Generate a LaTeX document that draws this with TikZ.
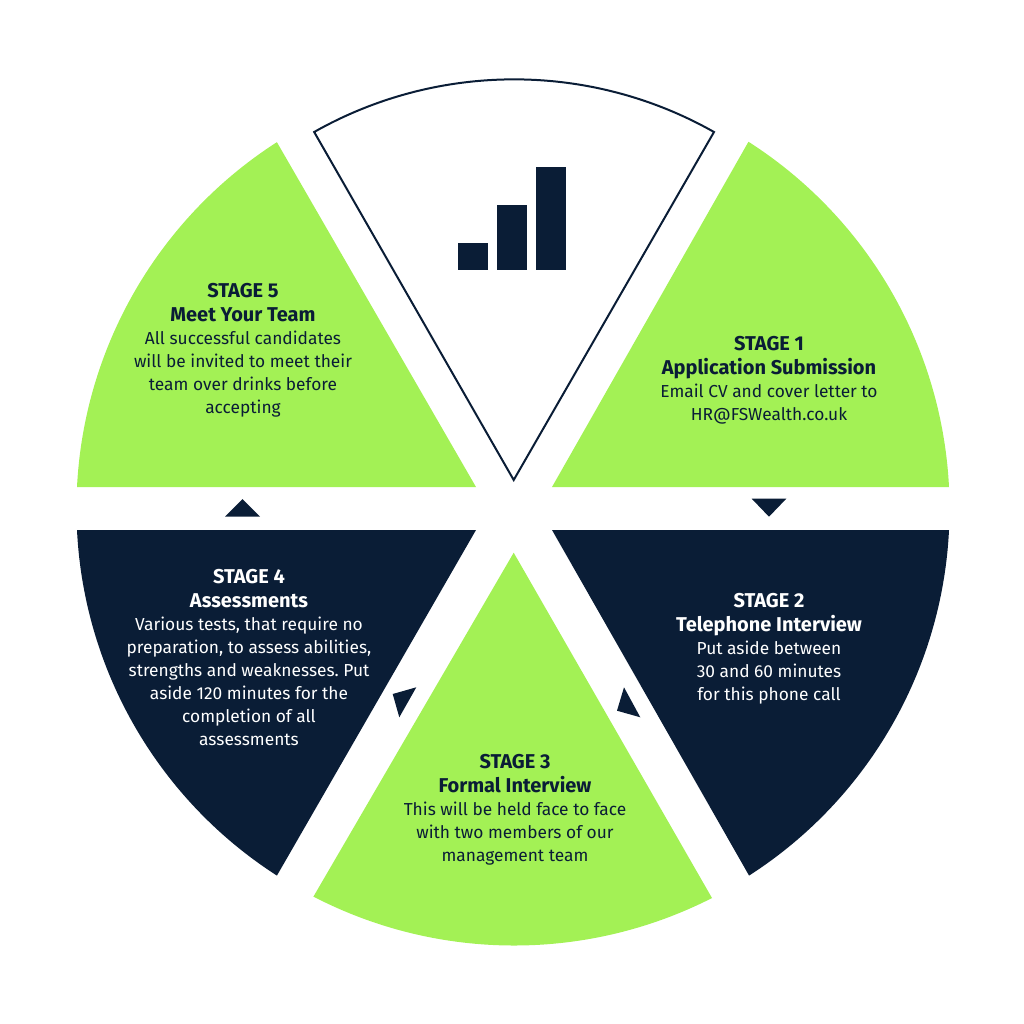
\documentclass[tikz,border=0pt]{standalone}
\usepackage{fontspec}
\setmainfont{Fira Sans}
\usepackage{xcolor}
\definecolor{fsgreen}{HTML}{A3F155}
\definecolor{fsnavy}{HTML}{0A1D36}
\newcommand{\stagehead}[1]{{\fontsize{15pt}{17.25pt}\selectfont\bfseries #1}}
\begin{document}
\begin{tikzpicture}[x=0.75pt, y=-0.75pt]
% tikz settings
\fontsize{13pt}{17.25pt}\selectfont\frenchspacing
\tikzstyle{wedge} = [fill=fsgreen]
\tikzstyle{darkwedge} = [fill=fsnavy]
\tikzstyle{pointer} = [fill=fsnavy]
\tikzstyle{stagetext} = [align=center, inner sep=0pt, text=fsnavy]
\tikzstyle{darktext} = [stagetext, text=white]
\useasboundingbox (0,0) rectangle (1024,1024);

% the segments
\fill [wedge] (552,487) -- (949,487) arc[start angle=-2.9, end angle=-57.4, radius=436] -- cycle;
\fill [darkwedge] (552,530) -- (949,530) arc[start angle=2.8, end angle=57.3, radius=436] -- cycle;
\fill [wedge] (513.7,552.7) -- (712,898) arc[start angle=63, end angle=117.4, radius=436] -- cycle;
\fill [darkwedge] (476,530) -- (77,530) arc[start angle=177.2, end angle=122.7, radius=436] -- cycle;
\fill [wedge] (476,487) -- (77,487) arc[start angle=182.9, end angle=237.3, radius=436] -- cycle;
\draw [fsnavy, line width=1.5pt, line join=miter] (513.7,480) -- (714,132) arc[start angle=-60.5, end angle=-119.5, radius=406] -- cycle;

% the bars
\fill [fsnavy] (457.7,243) rectangle (487.7,270.3);
\fill [fsnavy] (496.7,205) rectangle (526.7,270.3);
\fill [fsnavy] (535.7,167) rectangle (565.7,270.3);

% the little arrow heads
\fill [pointer] (751.7,498.7) -- (786.3,498.7) -- (769,516.7) -- cycle;
\fill [pointer] (624,687.3) -- (617,710.7) -- (640.3,717.3) -- cycle;
\fill [pointer] (392.7,694) -- (416.3,687.3) -- (399.3,717.3) -- cycle;
\fill [pointer] (225,516.7) -- (260,516.7) -- (242.5,499) -- cycle;

% the texts
\node [stagetext] (stageone) at (769,380) {\stagehead{STAGE 1} \\[0.75pt] \stagehead{Application Submission} \\ Email CV and cover letter to \\ HR@FSWealth.co.uk};
\node [darktext] (stagetwo) at (769,648.5) {\stagehead{STAGE 2} \\[0.75pt] \stagehead{Telephone Interview} \\ Put aside between \\ 30 and 60 minutes \\ for this phone call};
\node [stagetext] (stagethree) at (515,809.5) {\stagehead{STAGE 3} \\[0.75pt] \stagehead{Formal Interview} \\ This will be held face to face \\ with two members of our \\ management team};
\node [darktext] (stagefour) at (249,657.5) {\stagehead{STAGE 4} \\[0.75pt] \stagehead{Assessments} \\ Various tests, that require no \\ preparation, to assess abilities, \\ strengths and weaknesses. Put \\ aside 120 minutes for the \\ completion of all \\ assessments};
\node [stagetext] (stagefive) at (243,350.5) {\stagehead{STAGE 5} \\[0.75pt] \stagehead{Meet Your Team} \\ All successful candidates \\ will be invited to meet their \\ team over drinks before \\ accepting};
\end{tikzpicture}
\end{document}
